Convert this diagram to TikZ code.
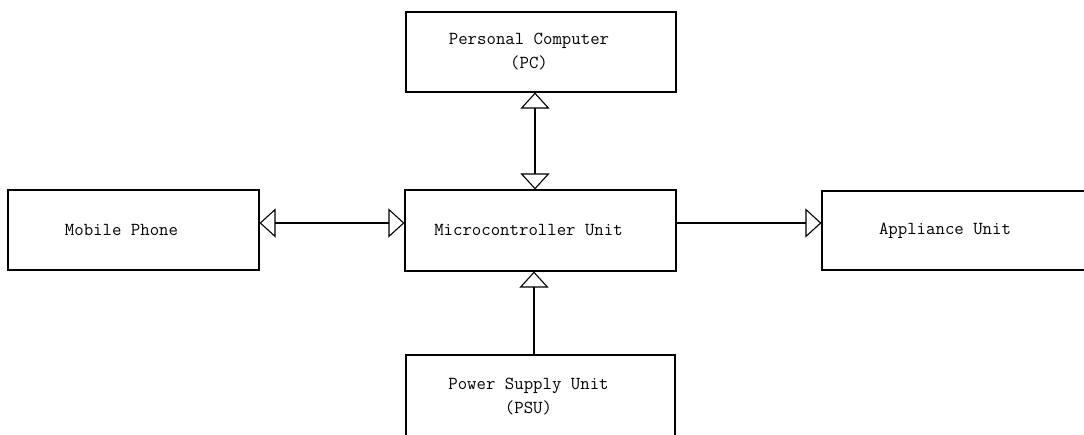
\documentclass[tikz,border=0pt]{standalone}
\usepackage{fontspec}
\usetikzlibrary{arrows.meta}
\begin{document}
\begin{tikzpicture}[x=1pt,y=1pt,
  block/.style={draw, line width=1.1pt, minimum height=80pt, inner sep=0pt},
  tag/.style={font=\ttfamily\fontsize{18.3}{24}\selectfont, align=center, xshift=-12pt, inner sep=0pt},
  link/.style={line width=1.1pt},
  hollow/.tip={Triangle[open, length=16pt, width=29pt]}
]
\useasboundingbox (0,0) rectangle (1084,434);
\clip (0,0) rectangle (1084,434);

% blocks
\node[block, minimum width=270pt, label={[tag]center:Personal Computer\\(PC)}] (pc) at (541,382) {};
\node[block, minimum width=271pt, minimum height=81pt, label={[tag]center:Microcontroller Unit}] (mcu) at (540.5,203.5) {};
\node[block, minimum width=251pt, label={[tag]center:Mobile Phone}] (phone) at (133.5,204) {};
\node[block, minimum width=270pt, minimum height=79pt, label={[tag]center:Appliance Unit}] (app) at (957,203.5) {};
\node[block, minimum width=269pt, minimum height=84pt, label={[tag]center:Power Supply Unit\\(PSU)}] (psu) at (540.5,37) {};

% connectors
\draw[link, {hollow}-{hollow}] ([xshift=-6pt]pc.south) -- ([xshift=-6pt]pc.south |- mcu.north);
\draw[link, -{hollow}] ([xshift=-6.5pt]mcu.south |- psu.north) -- ([xshift=-6.5pt]mcu.south);
\draw[link, {hollow}-{hollow}] ([yshift=7pt]phone.east) -- ([yshift=7pt]phone.east -| mcu.west);
\draw[link, -{hollow}] ([yshift=7.5pt]mcu.east) -- ([yshift=7.5pt]mcu.east -| app.west);
\end{tikzpicture}
\end{document}
